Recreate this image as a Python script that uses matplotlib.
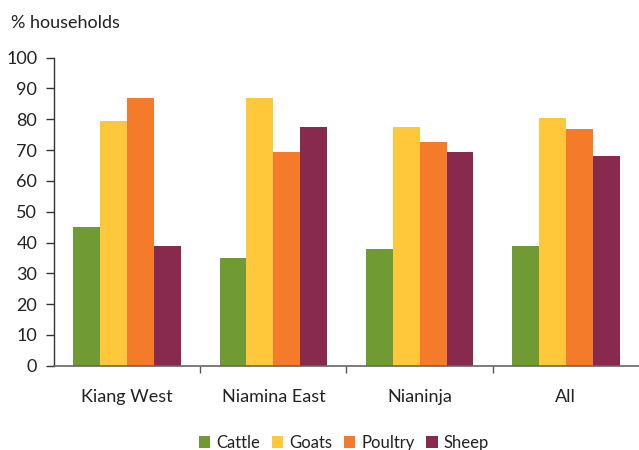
import matplotlib
matplotlib.use("Agg")
import matplotlib.pyplot as plt
import numpy as np

categories = ["Kiang West", "Niamina East", "Nianinja", "All"]
series = ["Cattle", "Goats", "Poultry", "Sheep"]
cattle = [45, 35, 38, 39]
goats = [79.5, 87, 77.5, 80.5]
poultry = [87, 69.5, 72.5, 77]
sheep = [39, 77.5, 69.5, 68]
colors = ["#6F9A34", "#FEC83A", "#F47B2A", "#872A4E"]

plt.rcParams['font.family'] = ['Lato', 'DejaVu Sans']

fig = plt.figure(figsize=(6.39, 4.5), dpi=100)
ax = fig.add_axes([0.0845, 0.1873, 0.9155, 0.6845])

x = np.arange(len(categories))
w = 0.184
data = [cattle, goats, poultry, sheep]
for i, (vals, name, c) in enumerate(zip(data, series, colors)):
    ax.bar(x + (i - 1.5) * w, vals, width=w, color=c, label=name, linewidth=0, zorder=2)

ax.set_xlim(-0.5, 3.5)
ax.set_ylim(0, 100)
ax.set_yticks(range(0, 101, 10))
ax.set_xticks(x)
ax.set_xticklabels(categories)
ax.set_xticks([0.5, 1.5, 2.5], minor=True)
ax.tick_params(axis='x', which='major', length=0, pad=17, labelsize=13, labelcolor='#222222')
ax.tick_params(axis='x', which='minor', length=5, width=1, color='#555555', direction='out')
ax.tick_params(axis='y', length=6, width=1, color='#333333', direction='out', labelsize=13, labelcolor='#222222', pad=6)

for s in ['top', 'right']:
    ax.spines[s].set_visible(False)
ax.spines['left'].set_color('#333333')
ax.spines['bottom'].set_color('#666666')
ax.spines['left'].set_linewidth(1)
ax.spines['bottom'].set_linewidth(1.2)

fig.text(0.017, 0.948, "% households", fontsize=13, color='#222222', va='center', ha='left')

leg = fig.legend(loc='lower center', bbox_to_anchor=(0.538, -0.035), ncol=4, frameon=False,
                 fontsize=12, handlelength=0.7, handleheight=0.7, handletextpad=0.35,
                 columnspacing=0.7, labelcolor='#222222')

fig.savefig("out.png", dpi=100)
